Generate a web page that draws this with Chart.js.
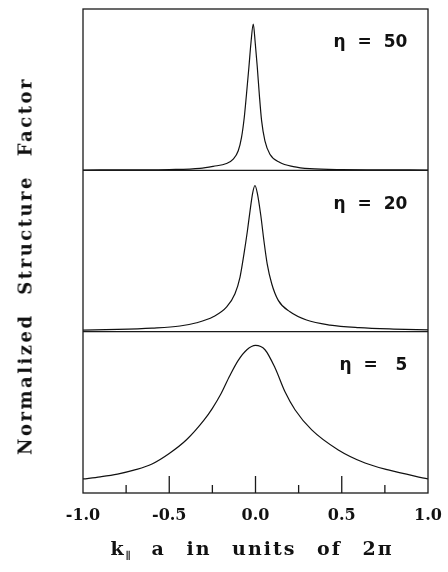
<!DOCTYPE html>
<html>
<head>
<meta charset="utf-8">
<script src="https://cdn.jsdelivr.net/npm/chart.js@4.4.1/dist/chart.umd.min.js"></script>
<style>
  body { margin: 0; background: #fff; }
  #wrap { position: relative; width: 448px; height: 572px; }
  .ytitle {
    position: absolute; left: 25px; top: 266px; width: max-content;
    transform: translate(-50%, -50%) rotate(-90deg);
    font: bold 18px "DejaVu Serif", serif; color: #111;
    letter-spacing: 2.5px; word-spacing: 10px; white-space: nowrap;
  }
  .xtitle {
    position: absolute; left: 252px; top: 537px; width: max-content;
    transform: translateX(-50%);
    font: bold 19px "DejaVu Serif", serif; color: #111;
    letter-spacing: 2px; word-spacing: 12px; white-space: nowrap; line-height: 22px;
  }
  .xtitle sub { font-size: 10px; vertical-align: -4px; letter-spacing: 0; }
</style>
</head>
<body>
<div id="wrap">
  <canvas id="chart" width="448" height="572"></canvas>
  <div class="ytitle">Normalized Structure Factor</div>
  <div class="xtitle">k<sub>∥</sub> a in units of 2π</div>
</div>
<script>
// eta = 50 (top panel)
const k50 = [-1.0, -0.7, -0.5, -0.322, -0.245, -0.168, -0.129, -0.100, -0.081, -0.065, -0.052, -0.038, -0.0265, -0.013, -0.0014, 0.0102, 0.0218, 0.0353, 0.0546, 0.0836, 0.1416, 0.219, 0.315, 0.5, 0.7, 1.0];
const s50 = [0.002, 0.003, 0.005, 0.0125, 0.025, 0.042, 0.069, 0.121, 0.204, 0.329, 0.475, 0.642, 0.788, 0.906, 0.788, 0.642, 0.475, 0.308, 0.183, 0.100, 0.048, 0.023, 0.010, 0.004, 0.003, 0.002];

// eta = 20 (middle panel)
const k20 = [-1.0, -0.8, -0.6, -0.438, -0.341, -0.245, -0.167, -0.119, -0.090, -0.067, -0.047, -0.032, -0.0165, -0.003, 0.0105, 0.030, 0.049, 0.068, 0.094, 0.132, 0.200, 0.296, 0.432, 0.6, 0.8, 1.0];
const s20 = [0.010, 0.014, 0.022, 0.035, 0.055, 0.092, 0.153, 0.235, 0.337, 0.481, 0.624, 0.746, 0.859, 0.906, 0.859, 0.726, 0.562, 0.419, 0.297, 0.194, 0.123, 0.072, 0.041, 0.025, 0.016, 0.011];

// eta = 5 (bottom panel)
const k5 = [-1.0, -0.9, -0.8, -0.7, -0.6, -0.5, -0.4, -0.3, -0.25, -0.2, -0.15, -0.1, -0.05, 0.0, 0.055, 0.113, 0.171, 0.229, 0.326, 0.480, 0.635, 0.770, 1.0];
const s5 = [0.087, 0.100, 0.117, 0.143, 0.180, 0.245, 0.330, 0.450, 0.525, 0.615, 0.725, 0.822, 0.888, 0.915, 0.888, 0.776, 0.627, 0.516, 0.391, 0.267, 0.186, 0.143, 0.087];

const tickLabels = ['-1.0', '-0.5', '0.0', '0.5', '1.0'];
const majorTicks = [-0.5, 0, 0.5];
const minorTicks = [-0.75, -0.25, 0.25, 0.75];
const etaLabels = ['η  =  50', 'η  =  20', 'η  =   5'];
const panelIds = ['y50', 'y20', 'y5'];

const toPts = (xs, ys) => xs.map((x, i) => ({x: x, y: ys[i]}));

function curve(label, xs, ys, axis){
  return {
    label: label, data: toPts(xs, ys), yAxisID: axis,
    borderColor: '#111', borderWidth: 1.2, pointRadius: 0,
    cubicInterpolationMode: 'monotone', fill: false
  };
}

// frame, panel separators, inward ticks, eta labels
const framePlugin = {
  id: 'frame',
  afterDatasetsDraw(chart){
    const ctx = chart.ctx, a = chart.chartArea, xs = chart.scales.x;
    ctx.save();
    ctx.strokeStyle = '#1a1a1a';
    ctx.lineWidth = 1.3;
    ctx.strokeRect(a.left, a.top, a.right - a.left, a.bottom - a.top);
    ctx.beginPath();
    ['y50', 'y20'].forEach(id=>{
      const b = chart.scales[id].bottom;
      ctx.moveTo(a.left, b); ctx.lineTo(a.right, b);
    });
    majorTicks.forEach(v=>{
      const px = xs.getPixelForValue(v);
      ctx.moveTo(px, a.bottom); ctx.lineTo(px, a.bottom - 17);
    });
    minorTicks.forEach(v=>{
      const px = xs.getPixelForValue(v);
      ctx.moveTo(px, a.bottom); ctx.lineTo(px, a.bottom - 8);
    });
    ctx.stroke();

    ctx.fillStyle = '#111';
    ctx.font = 'bold 17px "DejaVu Sans", sans-serif';
    ctx.textAlign = 'right';
    ctx.textBaseline = 'middle';
    panelIds.forEach((id, i)=>{
      const ys = chart.scales[id];
      ctx.fillText(etaLabels[i], xs.getPixelForValue(0.88), ys.getPixelForValue(0.79));
    });
    ctx.restore();
  }
};

const hiddenY = {
  type: 'linear', min: 0, max: 1, position: 'left', stack: 'panels', stackWeight: 1,
  ticks: { display: false }, grid: { display: false, drawTicks: false, tickLength: 0 },
  border: { display: false },
  afterFit: s => { s.width = 0; }
};

new Chart(document.getElementById('chart'), {
  type: 'line',
  data: {
    datasets: [
      curve('eta50', k50, s50, 'y50'),
      curve('eta20', k20, s20, 'y20'),
      curve('eta5', k5, s5, 'y5')
    ]
  },
  options: {
    responsive: false,
    animation: false,
    layout: { padding: { left: 83, right: 20, top: 9, bottom: 0 } },
    plugins: { legend: { display: false }, tooltip: { enabled: false } },
    scales: {
      x: {
        type: 'linear', min: -1, max: 1,
        grid: { display: false, drawTicks: false },
        border: { display: false },
        ticks: {
          stepSize: 0.5, padding: 13, color: '#111',
          font: { family: 'DejaVu Serif', weight: 'bold', size: 16 },
          maxRotation: 0,
          callback: (v, i) => tickLabels[i]
        },
        afterFit: s => { s.height = 79; s.paddingLeft = 0; s.paddingRight = 0; }
      },
      y5: Object.assign({}, hiddenY),
      y20: Object.assign({}, hiddenY),
      y50: Object.assign({}, hiddenY)
    }
  },
  plugins: [framePlugin]
});
</script>
</body>
</html>
